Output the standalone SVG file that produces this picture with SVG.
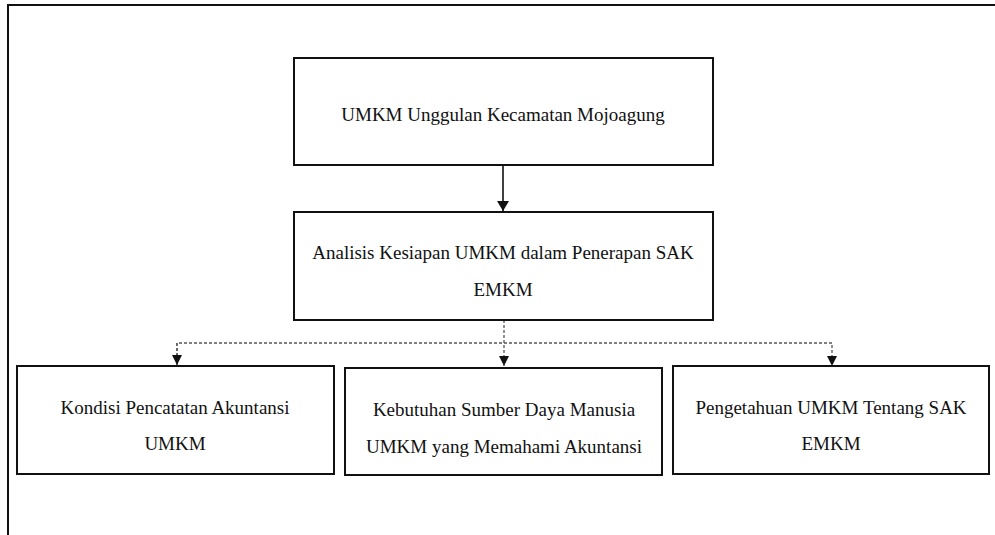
<svg xmlns="http://www.w3.org/2000/svg" width="995" height="535" viewBox="0 0 995 535">
<style>
.box{fill:#fff;stroke:#111;stroke-width:2}
.t{font-family:"Liberation Serif","Times New Roman",serif;font-size:19px;fill:#111;text-anchor:middle;dominant-baseline:central}
.solid{stroke:#111;stroke-width:1.6;fill:none}
.dash{stroke:#555;stroke-width:1.3;fill:none;stroke-dasharray:3 2}
</style>
<defs>
<marker id="ah" viewBox="0 0 10 12" refX="10" refY="6" markerWidth="10" markerHeight="12" markerUnits="userSpaceOnUse" orient="auto">
<path d="M0,0 L10,6 L0,12 Z" fill="#111"/>
</marker>
<marker id="ahs" viewBox="0 0 10 10" refX="10" refY="5" markerWidth="11" markerHeight="10" markerUnits="userSpaceOnUse" orient="auto">
<path d="M0,0 L10,5 L0,10 Z" fill="#111"/>
</marker>
</defs>
<g id="frame">
<path d="M8,535 L8,5 L995,5" fill="none" stroke="#111" stroke-width="2"/>
</g>
<g id="connectors">
<line class="solid" x1="503" y1="165" x2="503" y2="211" marker-end="url(#ah)"/>
<line class="dash" x1="504" y1="320" x2="504" y2="366" marker-end="url(#ahs)"/>
<path class="dash" d="M177,366 L177,343 L832,343 L832,366" marker-end="url(#ahs)"/>
<path class="dash" d="M177,343 L177,365" marker-end="url(#ahs)"/>
</g>
<g id="n1">
<rect class="box" x="294" y="58" width="419" height="107"/>
<text class="t" x="503" y="114">UMKM Unggulan Kecamatan Mojoagung</text>
</g>
<g id="n2">
<rect class="box" x="294" y="212" width="419" height="108"/>
<text class="t" x="503" y="252">Analisis Kesiapan UMKM dalam Penerapan SAK</text>
<text class="t" x="503" y="289">EMKM</text>
</g>
<g id="n3">
<rect class="box" x="17" y="366" width="317" height="108"/>
<text class="t" x="175" y="407">Kondisi Pencatatan Akuntansi</text>
<text class="t" x="175" y="443">UMKM</text>
</g>
<g id="n4">
<rect class="box" x="345" y="368" width="317" height="107"/>
<text class="t" x="504" y="409">Kebutuhan Sumber Daya Manusia</text>
<text class="t" x="504" y="446">UMKM yang Memahami Akuntansi</text>
</g>
<g id="n5">
<rect class="box" x="673" y="366" width="316" height="108"/>
<text class="t" x="831" y="407">Pengetahuan UMKM Tentang SAK</text>
<text class="t" x="831" y="443">EMKM</text>
</g>
</svg>
